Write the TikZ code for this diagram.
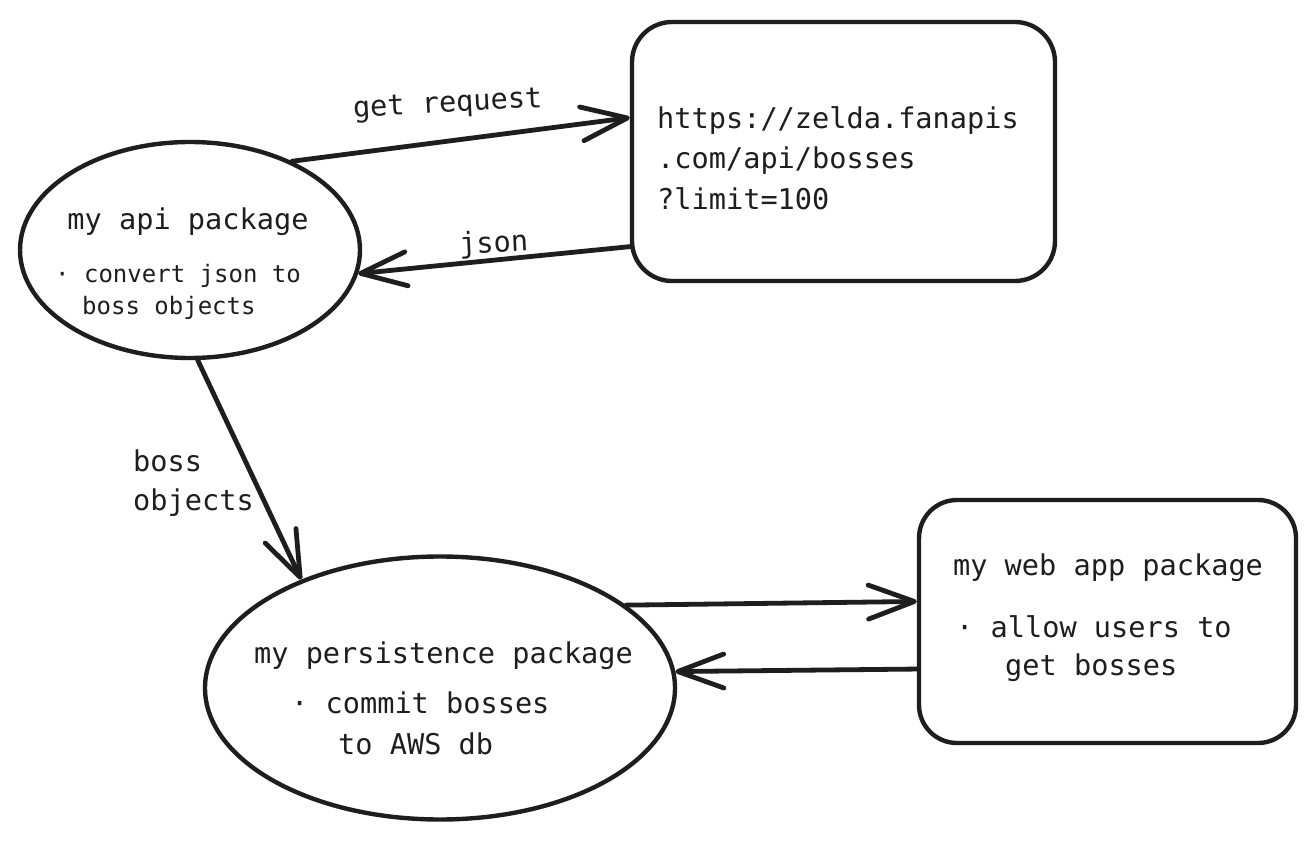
\documentclass[tikz,border=0pt]{standalone}
\usepackage{fontspec}
\newfontfamily\handfont{DejaVu Sans Mono}
\usetikzlibrary{shapes.geometric,arrows.meta,calc}
\definecolor{ink}{HTML}{1E1E1E}
\begin{document}
\begin{tikzpicture}[x=1pt,y=-1pt,
  shapeline/.style={draw=ink, line width=4.4pt},
  oval/.style={shapeline, ellipse, inner sep=0pt},
  roundbox/.style={shapeline, rectangle, inner sep=0pt},
  txt/.style={text=ink, font=\handfont\fontsize{28.6pt}{34pt}\selectfont, inner sep=0pt},
  smalltxt/.style={text=ink, font=\handfont\fontsize{24pt}{30pt}\selectfont, inner sep=0pt},
  link/.style={draw=ink, line width=4.8pt, line cap=round, line join=round,
    -{Straight Barb[length=46pt,width=34pt,round]}},
]
\useasboundingbox (0,0) rectangle (1316,842);
\fill[white] (0,0) rectangle (1316,842);

% shapes
\node[oval, minimum width=340pt, minimum height=216pt] (api) at (190,250) {};
\node[roundbox, rounded corners=40pt, minimum width=423pt, minimum height=259pt] (url) at (843.5,151.5) {};
\node[oval, minimum width=470pt, minimum height=263pt] (pers) at (440,688) {};
\node[roundbox, rounded corners=38pt, minimum width=377pt, minimum height=243pt] (web) at (1107.5,621.5) {};

% texts in api
\node[txt, anchor=mid] (apititle) at (188,227) {my api package};
\node[smalltxt, anchor=mid west] (apib1) at (55,280) {· convert json to};
\node[smalltxt, anchor=mid west] (apib2) at (82,312) {boss objects};

% texts in url box
\node[txt, anchor=mid west] (url1) at (657,126) {https://zelda.fanapis};
\node[txt, anchor=mid west] (url2) at (657,166) {.com/api/bosses};
\node[txt, anchor=mid west] (url3) at (657,207) {?limit=100};

% texts in persistence
\node[txt, anchor=mid] (perstitle) at (443.5,661) {my persistence package};
\node[txt, anchor=mid west] (persb1) at (291,711) {· commit bosses};
\node[txt, anchor=mid west] (persb2) at (338,752) {to AWS db};

% texts in web
\node[txt, anchor=mid] (webtitle) at (1108,573) {my web app package};
\node[txt, anchor=mid west] (webb1) at (956,635) {· allow users to};
\node[txt, anchor=mid west] (webb2) at (1005,673) {get bosses};

% connector labels
\node[txt, anchor=mid, rotate=3] (lget) at (448,110) {get request};
\node[txt, anchor=mid, rotate=3] (ljson) at (494,250) {json};
\node[txt, anchor=mid west] (lboss1) at (133,469) {boss};
\node[txt, anchor=mid west] (lboss2) at (133,508) {objects};

% connectors
\draw[link] (api.41) -- (url.171);
\draw[link] (url.204.5) -- (api.-8);
\draw[link] (api.-86) -- (pers.142);
\draw[link] (pers.24.8) -- (web.174);
\draw[link] (web.194.8) -- (pers.4.1);
\end{tikzpicture}
\end{document}
